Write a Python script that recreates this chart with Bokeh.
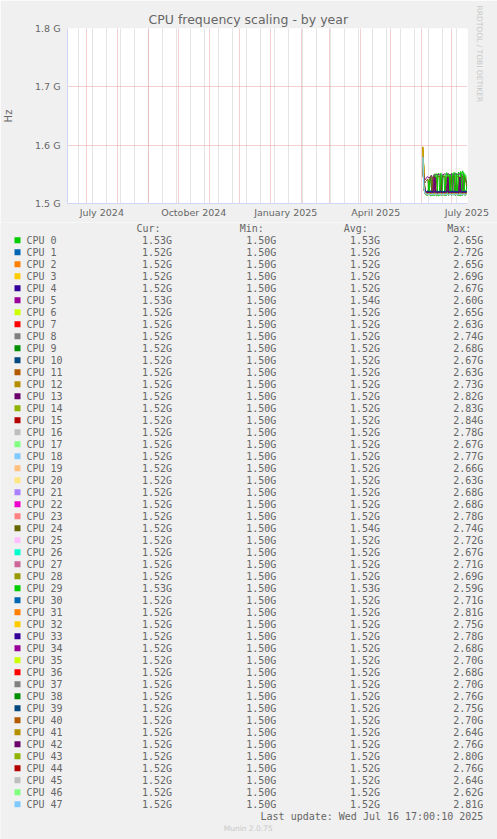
import datetime as dt
from math import pi
from bokeh.plotting import figure
from bokeh.layouts import column, row
from bokeh.models import (Range1d, FixedTicker, Grid, Title, PrintfTickFormatter,
                          ColumnDataSource)
from bokeh.core.properties import value
from bokeh.embed import file_html
from bokeh.resources import INLINE

# ---------------- data ----------------
TITLE = "CPU frequency scaling - by year"
Y_LABEL = "Hz"
WATERMARK = "RRDTOOL / TOBI OETIKER"
LAST_UPDATE = "Last update: Wed Jul 16 17:00:10 2025"
FOOTER = "Munin 2.0.75"

y_ticks_ghz = [1.5, 1.6, 1.7, 1.8]
x_tick_labels = ["July 2024", "October 2024", "January 2025", "April 2025", "July 2025"]
x_tick_dates = [dt.datetime(2024, 7, 16), dt.datetime(2024, 10, 16), dt.datetime(2025, 1, 16),
                dt.datetime(2025, 4, 16), dt.datetime(2025, 7, 16)]

graph_end = dt.datetime(2025, 7, 16, 17, 0, 10)
graph_days = 400
first_sample = dt.datetime(2025, 6, 2)   # daily samples from here on

cpu0_ghz = [1.570, 1.540, 1.522, 1.516, 1.515, 1.514, 1.516, 1.530, 1.548, 1.514,
            1.515, 1.549, 1.551, 1.514, 1.513, 1.550, 1.552, 1.514, 1.515, 1.514,
            1.548, 1.550, 1.515, 1.514, 1.514, 1.551, 1.550, 1.515, 1.549, 1.552,
            1.516, 1.514, 1.553, 1.550, 1.515, 1.514, 1.554, 1.514, 1.513, 1.552,
            1.556, 1.515, 1.550, 1.548, 1.530]
cpu29_ghz = [1.565, 1.535, 1.520, 1.515, 1.514, 1.516, 1.540, 1.514, 1.513, 1.515,
             1.514, 1.514, 1.515, 1.549, 1.551, 1.514, 1.513, 1.515, 1.552, 1.550,
             1.514, 1.515, 1.514, 1.549, 1.553, 1.515, 1.514, 1.550, 1.515, 1.514,
             1.551, 1.553, 1.515, 1.514, 1.552, 1.515, 1.514, 1.514, 1.555, 1.514,
             1.515, 1.553, 1.514, 1.516, 1.530]
cpu5_ghz = [1.578, 1.560, 1.540, 1.542, 1.545, 1.546, 1.544, 1.545, 1.547, 1.548,
            1.520, 1.548, 1.549, 1.550, 1.550, 1.549, 1.550, 1.549, 1.550, 1.520,
            1.550, 1.550, 1.551, 1.550, 1.550, 1.550, 1.551, 1.549, 1.550, 1.551,
            1.520, 1.550, 1.551, 1.550, 1.549, 1.550, 1.550, 1.551, 1.549, 1.550,
            1.522, 1.545, 1.540, 1.538, 1.535]
cpu24_ghz = [1.570, 1.550, 1.535, 1.538, 1.540, 1.542, 1.520, 1.545, 1.546, 1.521,
             1.546, 1.547, 1.546, 1.521, 1.546, 1.547, 1.546, 1.547, 1.521, 1.546,
             1.547, 1.546, 1.547, 1.521, 1.546, 1.547, 1.546, 1.547, 1.520, 1.546,
             1.547, 1.546, 1.547, 1.521, 1.546, 1.547, 1.546, 1.520, 1.546, 1.547,
             1.546, 1.521, 1.546, 1.540, 1.525]
mixed_ghz = [1.575, 1.545, 1.525, 1.520, 1.519, 1.519, 1.519, 1.518, 1.519, 1.519,
             1.518, 1.519, 1.545, 1.518, 1.519, 1.518, 1.519, 1.519, 1.518, 1.519,
             1.518, 1.519, 1.519, 1.518, 1.519, 1.545, 1.518, 1.519, 1.518, 1.519,
             1.519, 1.518, 1.519, 1.519, 1.518, 1.519, 1.518, 1.545, 1.519, 1.518,
             1.519, 1.519, 1.518, 1.519, 1.520]
spike_ghz = [1.597, 1.560, 1.524, 1.518, 1.517, 1.517, 1.518, 1.517, 1.517, 1.518,
             1.517, 1.517, 1.518, 1.517, 1.517, 1.517, 1.518, 1.517, 1.517, 1.518,
             1.517, 1.517, 1.517, 1.518, 1.517, 1.517, 1.518, 1.517, 1.517, 1.517,
             1.518, 1.517, 1.517, 1.518, 1.517, 1.517, 1.517, 1.518, 1.517, 1.517,
             1.518, 1.517, 1.517, 1.517, 1.518]
high_ghz = [1.575, 1.540, 1.523, 1.520, 1.520, 1.521, 1.520, 1.520, 1.521, 1.520,
            1.520, 1.521, 1.520, 1.520, 1.520, 1.521, 1.520, 1.520, 1.521, 1.520,
            1.520, 1.520, 1.521, 1.520, 1.520, 1.521, 1.520, 1.520, 1.520, 1.521,
            1.520, 1.520, 1.521, 1.520, 1.520, 1.520, 1.521, 1.520, 1.520, 1.521,
            1.520, 1.520, 1.520, 1.521, 1.520]
low_ghz = [1.580, 1.530, 1.518, 1.516, 1.516, 1.515, 1.516, 1.516, 1.515, 1.516,
           1.516, 1.516, 1.515, 1.516, 1.516, 1.515, 1.516, 1.516, 1.516, 1.515,
           1.516, 1.516, 1.515, 1.516, 1.516, 1.516, 1.515, 1.516, 1.516, 1.515,
           1.516, 1.516, 1.516, 1.515, 1.516, 1.516, 1.515, 1.516, 1.516, 1.516,
           1.515, 1.516, 1.516, 1.515, 1.516]

cpu_profile = ["cpu0", "high", "low", "spike", "high", "cpu5", "low", "low", "low", "low",
               "high", "mixed", "spike", "mixed", "low", "low", "low", "low", "low", "low",
               "low", "low", "low", "low", "cpu24", "low", "low", "low", "spike", "cpu29",
               "high", "low", "spike", "high", "mixed", "low", "low", "low", "low", "high",
               "low", "spike", "mixed", "low", "low", "low", "low", "low"]

cur_ghz = [1.53, 1.52, 1.52, 1.52, 1.52, 1.53, 1.52, 1.52, 1.52, 1.52,
           1.52, 1.52, 1.52, 1.52, 1.52, 1.52, 1.52, 1.52, 1.52, 1.52,
           1.52, 1.52, 1.52, 1.52, 1.52, 1.52, 1.52, 1.52, 1.52, 1.53,
           1.52, 1.52, 1.52, 1.52, 1.52, 1.52, 1.52, 1.52, 1.52, 1.52,
           1.52, 1.52, 1.52, 1.52, 1.52, 1.52, 1.52, 1.52]
min_ghz = [1.50] * 48
avg_ghz = [1.53, 1.52, 1.52, 1.52, 1.52, 1.54, 1.52, 1.52, 1.52, 1.52,
           1.52, 1.52, 1.52, 1.52, 1.52, 1.52, 1.52, 1.52, 1.52, 1.52,
           1.52, 1.52, 1.52, 1.52, 1.54, 1.52, 1.52, 1.52, 1.52, 1.53,
           1.52, 1.52, 1.52, 1.52, 1.52, 1.52, 1.52, 1.52, 1.52, 1.52,
           1.52, 1.52, 1.52, 1.52, 1.52, 1.52, 1.52, 1.52]
max_ghz = [2.65, 2.72, 2.65, 2.69, 2.67, 2.60, 2.65, 2.63, 2.74, 2.68,
           2.67, 2.63, 2.73, 2.82, 2.83, 2.84, 2.78, 2.67, 2.77, 2.66,
           2.63, 2.68, 2.68, 2.78, 2.74, 2.72, 2.67, 2.71, 2.69, 2.59,
           2.71, 2.81, 2.75, 2.78, 2.68, 2.70, 2.68, 2.70, 2.76, 2.75,
           2.70, 2.64, 2.76, 2.80, 2.76, 2.64, 2.62, 2.81]

munin_palette = ["#00CC00", "#0066B3", "#FF8000", "#FFCC00", "#330099", "#990099", "#CCFF00",
                 "#FF0000", "#808080", "#008F00", "#00487D", "#B35A00", "#B38F00", "#6B006B",
                 "#8FB300", "#B30000", "#BEBEBE", "#80FF80", "#80C9FF", "#FFC080", "#FFE680",
                 "#AA80FF", "#EE00CC", "#FF8080", "#666600", "#FFBFFF", "#00FFCC", "#CC6699",
                 "#999900"]

profiles = {"cpu0": cpu0_ghz, "cpu29": cpu29_ghz, "cpu5": cpu5_ghz, "cpu24": cpu24_ghz,
            "mixed": mixed_ghz, "spike": spike_ghz, "high": high_ghz, "low": low_ghz}

# ---------------- style ----------------
FONT = "DejaVu Sans"
MONO = "DejaVu Sans Mono"
TXT = "#666666"
BG = "#F0F0F0"
AXIS_C = "#CFD6F8"
MGRID = "#EBA0A0"
GRID = "#C8C8C8"

graph_start = graph_end - dt.timedelta(days=graph_days)
epoch = dt.datetime(1970, 1, 1)


def ms(d):
    return (d - epoch).total_seconds() * 1000.0


sample_dates = [first_sample + dt.timedelta(days=i) for i in range(len(cpu0_ghz))]
month_starts = []
yy, mm = 2024, 7
while dt.datetime(yy, mm, 1) <= graph_end:
    month_starts.append(ms(dt.datetime(yy, mm, 1)))
    mm += 1
    if mm > 12:
        mm, yy = 1, yy + 1
minor_lines = []
d = dt.datetime(2024, 6, 23)
while d < graph_end:
    minor_lines.append(ms(d))
    d += dt.timedelta(days=14)

FW, FH = 400, 175
chart = figure(frame_width=FW, frame_height=FH, x_axis_type="datetime",
               x_range=Range1d(graph_start, graph_end), y_range=Range1d(1.5, 1.8),
               output_backend="svg", toolbar_location=None,
               min_border_left=67, min_border_right=30, min_border_top=28, min_border_bottom=19,
               background_fill_color="white", border_fill_color=BG, outline_line_color=None)
chart.xgrid.visible = False
chart.ygrid.visible = False

chart.add_layout(Grid(dimension=0, ticker=FixedTicker(ticks=minor_lines), grid_line_color=GRID,
                      grid_line_dash="1 1", grid_line_width=1))
chart.add_layout(Grid(dimension=0, ticker=FixedTicker(ticks=month_starts), grid_line_color=MGRID,
                      grid_line_dash="1 1", grid_line_width=1))
chart.add_layout(Grid(dimension=1, ticker=FixedTicker(ticks=y_ticks_ghz), grid_line_color=MGRID,
                      grid_line_dash="1 1", grid_line_width=1))

for i, prof in enumerate(cpu_profile):
    chart.line(sample_dates, profiles[prof], line_color=munin_palette[i % len(munin_palette)],
               line_width=1)

xax = chart.xaxis[0]
xax.ticker = FixedTicker(ticks=[ms(t) for t in x_tick_dates])
xax.major_label_overrides = {ms(t): lab for t, lab in zip(x_tick_dates, x_tick_labels)}
xax.major_tick_line_color = None
xax.minor_tick_line_color = None
xax.major_tick_out = 0
xax.major_tick_in = 0
xax.minor_tick_out = 0
xax.axis_line_color = AXIS_C
xax.major_label_standoff = 3
xax.major_label_text_font = FONT
xax.major_label_text_font_size = "9.5px"
xax.major_label_text_color = TXT

yax = chart.yaxis[0]
yax.ticker = FixedTicker(ticks=y_ticks_ghz)
yax.formatter = PrintfTickFormatter(format="%.1f G")
yax.major_tick_line_color = None
yax.minor_tick_line_color = None
yax.major_tick_out = 0
yax.major_tick_in = 0
yax.minor_tick_out = 0
yax.axis_line_color = AXIS_C
yax.major_label_standoff = 7
yax.major_label_text_font = FONT
yax.major_label_text_font_size = "9.5px"
yax.major_label_text_color = TXT
yax.axis_label = Y_LABEL
yax.axis_label_standoff = 18
yax.axis_label_text_font = FONT
yax.axis_label_text_font_size = "10px"
yax.axis_label_text_font_style = "normal"
yax.axis_label_text_color = TXT

chart.title.text = TITLE
chart.title.align = "left"
chart.title.offset = 81
chart.title.standoff = 3
chart.title.text_font = FONT
chart.title.text_font_size = "12.5px"
chart.title.text_font_style = "normal"
chart.title.text_color = TXT

chart.add_layout(Title(text=WATERMARK, align="left", offset=-23, standoff=15, text_font=FONT,
                       text_font_size="7.5px", text_font_style="normal", text_color="#C8C8C8"),
                 "right")

# ---------------- legend ----------------
LG_W, LG_H = 497, 617
leg = figure(width=LG_W, height=LG_H, x_range=Range1d(0, LG_W), y_range=Range1d(LG_H, 0),
             output_backend="svg", toolbar_location=None, x_axis_location=None,
             y_axis_location=None, min_border=0, background_fill_color=BG,
             border_fill_color=BG, outline_line_color=None)
leg.xgrid.visible = False
leg.ygrid.visible = False

n = len(cpu_profile)
row_y = [17.7 + 12 * i for i in range(n)]
src = ColumnDataSource(dict(
    y=row_y,
    color=[munin_palette[i % len(munin_palette)] for i in range(n)],
    name=["CPU %d" % i for i in range(n)],
    cur=["%.2fG" % v for v in cur_ghz],
    mn=["%.2fG" % v for v in min_ghz],
    avg=["%.2fG" % v for v in avg_ghz],
    mx=["%.2fG" % v for v in max_ghz],
))
mono = dict(text_font=value(MONO), text_font_size=value("10px"), text_color=TXT,
            text_baseline="middle")
leg.rect(x=17, y="y", width=6, height=6, fill_color="color", line_color=None, source=src)
leg.text(x=26, y="y", text="name", text_align="left", source=src, **mono)
leg.text(x=171.5, y="y", text="cur", text_align="right", source=src, **mono)
leg.text(x=275.8, y="y", text="mn", text_align="right", source=src, **mono)
leg.text(x=379.5, y="y", text="avg", text_align="right", source=src, **mono)
leg.text(x=482.8, y="y", text="mx", text_align="right", source=src, **mono)

headers = ["Cur:", "Min:", "Avg:", "Max:"]
leg.text(x=[136, 239.3, 343.3, 446.7], y=[5.7] * 4, text=headers, text_align="left", **mono)
leg.text(x=[482.8], y=[593.7], text=[LAST_UPDATE], text_align="right", **mono)
leg.text(x=[247.7], y=[605.7], text=[FOOTER], text_align="center", text_baseline="middle",
         text_font=value(FONT), text_font_size=value("7.5px"), text_color="#C8C8C8")

p = column(chart, row(leg))
open("out.html", "w").write(file_html(p, INLINE))
